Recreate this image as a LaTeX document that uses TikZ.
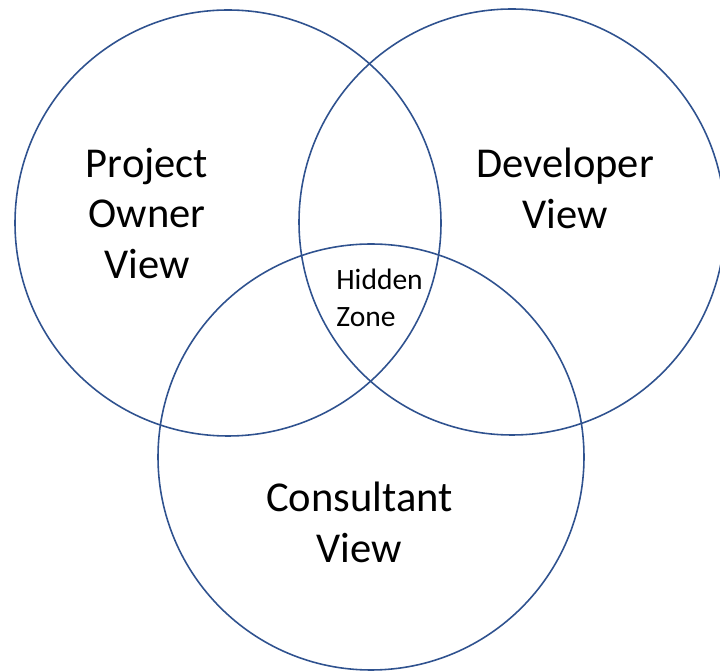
\documentclass[tikz,border=0pt]{standalone}
\usepackage{fontspec}
\setmainfont{Carlito}
\usepackage{xcolor}
\definecolor{vennblue}{HTML}{2F528F}
\usetikzlibrary{positioning}

\begin{document}
\begin{tikzpicture}
		[ring/.style = {draw=vennblue, line width=0.9pt},
		 viewtext/.style = {align=center, inner sep=0pt,
			font=\fontsize{24.2}{28.9}\selectfont},
		 zonetext/.style = {align=left, inner sep=0pt, anchor=west,
			font=\fontsize{16.8}{20.8}\selectfont}]
		\useasboundingbox (0, 0) rectangle (14.4, 13.42);
		\clip (0, 0) rectangle (14.4, 13.42);
		\coordinate (owner) at (4.56, 8.96);
		\coordinate (dev)   at (10.24, 8.98);
		\coordinate (cons)  at (7.42, 4.28);
		\draw[ring] (owner) circle [radius = 4.26 cm];
		\draw[ring] (dev)   circle [radius = 4.26 cm];
		\draw[ring] (cons)  circle [radius = 4.26 cm];
		\path	(2.94, 9.15) node[viewtext] (ownerlabel) {Project\\Owner\\View}
				(11.30, 9.65) node[viewtext] (devlabel) {Developer\\View}
				(7.19, 2.97) node[viewtext] (conslabel) {Consultant\\View}
				(6.72, 7.46) node[zonetext] (hidden) {Hidden\\Zone} ;
	\end{tikzpicture}
\end{document}
